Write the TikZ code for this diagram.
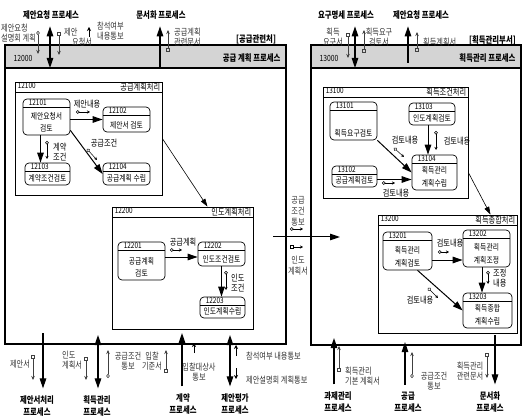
\documentclass[tikz,border=0pt]{standalone}
\usepackage{fontspec}
\setmainfont{Noto Sans CJK KR}[FakeStretch=0.8]
\usetikzlibrary{arrows.meta,calc}
\newcommand\lbl{\fontsize{9}{10}\selectfont}
\newcommand\bxt{\fontsize{8.5}{12.5}\selectfont}
\newcommand\prt{\fontsize{9.2}{12.5}\selectfont\bfseries}
\tikzset{
 big/.style={draw,line width=1.1pt,path picture={\fill[black!17]([yshift=-23pt]path picture bounding box.north west)rectangle(path picture bounding box.north east);\draw[line width=1.1pt]([yshift=-23pt]path picture bounding box.north west)--([yshift=-23pt]path picture bounding box.north east);}},
 sub/.style={draw,line width=.7pt,fill=white,path picture={\draw[line width=.6pt]([yshift=-10pt]path picture bounding box.north west)--([yshift=-10pt]path picture bounding box.north east);}},
 pbox/.style={draw,line width=.7pt,rounded corners=4pt,fill=white,path picture={\draw[line width=.5pt]([yshift=-8pt]path picture bounding box.north west)--([yshift=-8pt]path picture bounding box.north east);}},
 hnum/.style={anchor=west,xshift=9pt,yshift=-14pt,font=\fontsize{8.5}{9}\selectfont},
 htit/.style={anchor=east,xshift=-6pt,yshift=-14pt,font=\prt},
 snum/.style={anchor=north west,xshift=3pt,yshift=-1pt,font=\fontsize{8}{8}\selectfont},
 stit/.style={anchor=north east,xshift=-2pt,yshift=-1pt,font=\fontsize{9}{9}\selectfont},
 pnum/.style={anchor=north west,xshift=6pt,yshift=-.5pt,font=\fontsize{8}{8}\selectfont},
 pbody/.style={anchor=south,yshift=3pt,align=center,font=\bxt},
 prc/.style={font=\prt,align=center,outer sep=7pt},
 ttl/.style={font=\prt},
 lab/.style={text=black!80},
 flow/.style={line width=1pt,-{Triangle[length=10pt,width=6.5pt]}},
 link/.style={line width=.6pt,-{Triangle[length=8pt,width=5pt]}},
 ext/.style={line width=1.1pt,-{Triangle[length=10pt,width=6.5pt]}},
 bi/.style={line width=1.1pt,{Triangle[length=10pt,width=6.5pt]}-{Triangle[length=10pt,width=6.5pt]}},
 msg/.style={line width=.5pt,{Circle[open,length=3.5pt,width=3.5pt]}-{Stealth[length=3pt,width=3pt]}},
 dmsg/.style={line width=.5pt,{Square[open,length=3.5pt,width=3.5pt]}-{Stealth[length=3pt,width=3pt]}},
 doc/.style={line width=.6pt,black!75,{Square[open,length=4pt,width=4pt]}-{Stealth[length=4pt,width=3.5pt]}},
 dat/.style={line width=.6pt,black!75,{Circle[open,length=4pt,width=3.5pt]}-{Stealth[length=4pt,width=3.5pt]}},
 evt/.style={line width=.6pt,-{Stealth[length=4pt,width=4pt]}}
}
\begin{document}
\begin{tikzpicture}[x=1pt,y=-1pt,every node/.style={inner sep=0pt,font=\lbl}]
\useasboundingbox(0,0)rectangle(528,417);
% main processes
\node[big,minimum width=281,minimum height=299,label={[hnum]north west:12000},label={[htit]north east:공급 계획 프로세스}](b12000)at(145.5,194.5){};
\node[big,minimum width=210,minimum height=300,label={[hnum]north west:13000},label={[htit]north east:획득관리 프로세스}](b13000)at(416,195){};
\node[sub,minimum width=147,minimum height=113,label={[snum]north west:12100},label={[stit]north east:공급계획처리}](b12100)at(88.5,138.5){};
\node[sub,minimum width=141,minimum height=122,label={[snum]north west:12200},label={[stit]north east:인도계획처리}](b12200)at(182.5,268){};
\node[sub,minimum width=145,minimum height=111,label={[snum]north west:13100},label={[stit]north east:획득조건처리}](b13100)at(395.5,142.5){};
\node[sub,minimum width=139,minimum height=118,label={[snum]north west:13200},label={[stit]north east:획득종합처리}](b13200)at(447.5,274){};
% 12100
\node[pbox,minimum width=47,minimum height=36,label={[pnum]north west:12101},label={[pbody]south:제안요청서\\검토}](p12101)at(46.5,117){};
\node[pbox,minimum width=47,minimum height=25,label={[pnum]north west:12102},label={[pbody]south:제안서 검토}](p12102)at(126.5,119.5){};
\node[pbox,minimum width=45,minimum height=22,label={[pnum]north west:12103},label={[pbody]south:계약조건검토}](p12103)at(47.5,174){};
\node[pbox,minimum width=47,minimum height=22,label={[pnum]north west:12104},label={[pbody]south:공급계획 수립}](p12104)at(126.5,174){};
\draw[flow]([yshift=-2.5pt]p12101.east)--([yshift=-2.5pt]p12101.east-|p12102.west);
\draw[flow]([xshift=-6pt]p12101.south)--([xshift=-7pt]p12103.north);
\draw[flow]([yshift=5pt]p12101.south east)--(p12104.west);
\draw[msg](76,112)--(90,112);\node(l22)at(87,104){제안내용};
\draw[msg](47,141)--(47,159);\node[align=left,anchor=west](l23)at(53,152){계약\\조건};
\draw[msg](87,149)--(97,160);\node(l24)at(104,143){공급조건};
% 12200
\node[pbox,minimum width=47,minimum height=38,label={[pnum]north west:12201},label={[pbody]south:공급계획\\검토}](p12201)at(141.5,261){};
\node[pbox,minimum width=47,minimum height=24,label={[pnum]north west:12202},label={[pbody]south:인도조건검토}](p12202)at(221.5,254){};
\node[pbox,minimum width=45,minimum height=21,label={[pnum]north west:12203},label={[pbody]south:인도계획수립}](p12203)at(222.5,307.5){};
\draw[flow]([yshift=4pt]p12201.east)--([yshift=-3pt]p12202.west);
\draw[flow](p12202.south)--(p12202.south|-p12203.north);
\draw[msg](170,250)--(182,250);\node(l25)at(183,242){공급계획};
\draw[msg](226,271)--(226,290);\node[align=left,anchor=west](l26)at(231,283){인도\\조건};
\draw[link](b12100.east)--([xshift=25pt]b12200.north);
% 13100
\node[pbox,minimum width=47,minimum height=38,label={[pnum]north west:13101},label={[pbody]south:획득요구검토}](p13101)at(353.5,121){};
\node[pbox,minimum width=45,minimum height=21,label={[pnum]north west:13102},label={[pbody]south:공급계획검토}](p13102)at(354.5,176.5){};
\node[pbox,minimum width=46,minimum height=22,label={[pnum]north west:13103},label={[pbody]south:인도계획검토}](p13103)at(432,114){};
\node[pbox,minimum width=45,minimum height=35,label={[pnum]north west:13104},label={[pbody]south:획득관리\\계획수립}](p13104)at(434.5,172.5){};
\draw[flow](p13101.south east)--(p13104.west);
\draw[flow]([xshift=-4pt]p13103.south)--([xshift=-6.5pt]p13104.north);
\draw[flow]([yshift=-3pt]p13102.east)--([yshift=-7pt]p13104.west);
\draw[msg](394,148)--(404,157);\node(l27)at(405,140){검토내용};
\draw[msg](436,131)--(436,150);\node(l28)at(457,141){검토내용};
\draw[msg](382,183)--(395,183);\node(l29)at(396,193){검토내용};
\draw[link]([yshift=-30pt]b13100.east)--([xshift=43pt]b13200.north);
% 13200
\node[pbox,minimum width=49,minimum height=38,label={[pnum]north west:13201},label={[pbody]south:획득관리\\계획검토}](p13201)at(407.5,251){};
\node[pbox,minimum width=47,minimum height=37,label={[pnum]north west:13202},label={[pbody]south:획득관리\\계획조정}](p13202)at(486.5,248.5){};
\node[pbox,minimum width=49,minimum height=35,label={[pnum]north west:13203},label={[pbody]south:획득종합\\계획수립}](p13203)at(487.5,310.5){};
\draw[flow]([yshift=-9pt]p13201.east)--([yshift=-11.5pt]p13202.west);
\draw[flow]([xshift=-4.5pt]p13202.south)--([xshift=-5.5pt]p13203.north);
\draw[flow]([xshift=10pt]p13201.south)--(p13203.west);
\draw[msg](438,252)--(449,252);\node(l30)at(450,243){검토내용};
\draw[msg](488,271)--(488,284);\node[align=left,anchor=west](l31)at(493,278){조정\\내용};
\draw[msg](428,288)--(438,298);\node(l32)at(420,300){검토내용};
% between the two processes
\coordinate(m1)at(273,237);\coordinate(m2)at(340,237);\draw[flow](m1)--(m2);
\draw[msg](290,229)--(303,229);\draw[dmsg](290,247)--(303,247);
\node[lab,align=center,font=\fontsize{9}{11}\selectfont](l10)at(298,211){공급\\조건\\통보};
\node[lab,align=center,font=\fontsize{9}{11}\selectfont](l11)at(298,266){인도\\계획서};
% outside processes, top
\node[prc](t1)at(51,15){제안요청 프로세스};\node[prc](t2)at(161,15){문서화 프로세스};
\node[prc](t3)at(346,15){요구명세 프로세스};\node[prc](t4)at(421,15){제안요청 프로세스};
\coordinate(c1)at(50,68);\draw[bi](t1.south-|c1)--(c1);
\coordinate(c2)at(160,69);\draw[ext](c2)--(c2|-t2.south);
\coordinate(c3)at(355,68);\draw[bi](t3.south-|c3)--(c3);
\coordinate(c4)at(408,63);\draw[ext](c4)--(c4|-t4.south);
\draw[dat](38,31)--(38,54);\node[lab,anchor=west,align=left](l1)at(1,33){제안요청\\설명회 계획};
\draw[doc](59,32)--(59,55);\node[lab,anchor=west,align=left](l2)at(64,37){제안\\\hspace*{8pt}요청서};
\draw[evt](89,37)--(89,27);\node[lab,anchor=west,align=left](l3)at(97,31){참석여부\\내용통보};
\draw[doc](168,52)--(168,30);\node[lab,anchor=west,align=left](l4)at(174,37){공급계획\\관련문서};
\node[ttl,anchor=west](l5)at(236,39){[공급관련처]};
\draw[doc](348,33)--(348,58);\node[lab,align=center](l6)at(333,37){획득\\요구서};
\draw[doc](364,53)--(364,30);\node[lab,align=center](l7)at(379,37){획득요구\\검토서};
\draw[doc](417,52)--(417,32);\node[lab,anchor=west](l8)at(423,42){획득계획서};
\node[ttl,anchor=west](l9)at(469,40){[획득관리부서]};
% outside processes, bottom
\node[prc](u1)at(37,406){제안서처리\\프로세스};\node[prc](u2)at(97,406){획득관리\\프로세스};
\node[prc](u3)at(183,404){계약\\프로세스};\node[prc](u4)at(235,404){제안평가\\프로세스};
\node[prc](u5)at(338,402){과제관리\\프로세스};\node[prc](u6)at(408,402){공급\\프로세스};
\node[prc](u7)at(490,402){문서화\\프로세스};
\coordinate(c5)at(43,333);\draw[ext](c5)--(c5|-u1.north);
\coordinate(c6)at(98,335);\draw[bi](c6)--(c6|-u2.north);
\coordinate(c7)at(182,333);\draw[ext](c7|-u3.north)--(c7);
\coordinate(c8)at(230,335);\draw[bi](c8)--(c8|-u4.north);
\coordinate(c9)at(334,338);\draw[ext](c9|-u5.north)--(c9);
\coordinate(c10)at(405,342);\draw[ext](c10|-u6.north)--(c10);
\coordinate(c11)at(495,335);\draw[ext](c11)--(c11|-u7.north);
\draw[doc](33,355)--(33,380);\node[lab](l12)at(20,364){제안서};
\draw[doc](86,357)--(86,380);\node[lab,align=left,anchor=west](l13)at(62,360){인도\\계획서};
\draw[dat](108,378)--(108,350);\node[lab,align=center](l14)at(128,361){공급조건\\통보};
\draw[doc](166,373)--(166,350);\node[lab,align=center](l15)at(152,361){입찰\\기준서};
\draw[evt](194,353)--(194,343);\node[lab,align=center](l16)at(199,372){입찰대상사\\통보};
\draw[evt](236,356)--(236,345);\node[lab,anchor=west](l17)at(246,356){참석여부 내용통보};
\draw[evt](236,368)--(236,379);\node[lab,anchor=west](l18)at(246,380){제안설명회 계획통보};
\draw[doc](339,372)--(339,346);\node[lab,align=left,anchor=west](l19)at(345,376){획득관리\\기본 계획서};
\draw[dat](412,378)--(412,352);\node[lab,align=center](l20)at(434,381){공급조건\\통보};
\draw[doc](487,353)--(487,378);\node[lab,align=center](l21)at(470,371){획득관리\\관련문서};
\end{tikzpicture}
\end{document}
